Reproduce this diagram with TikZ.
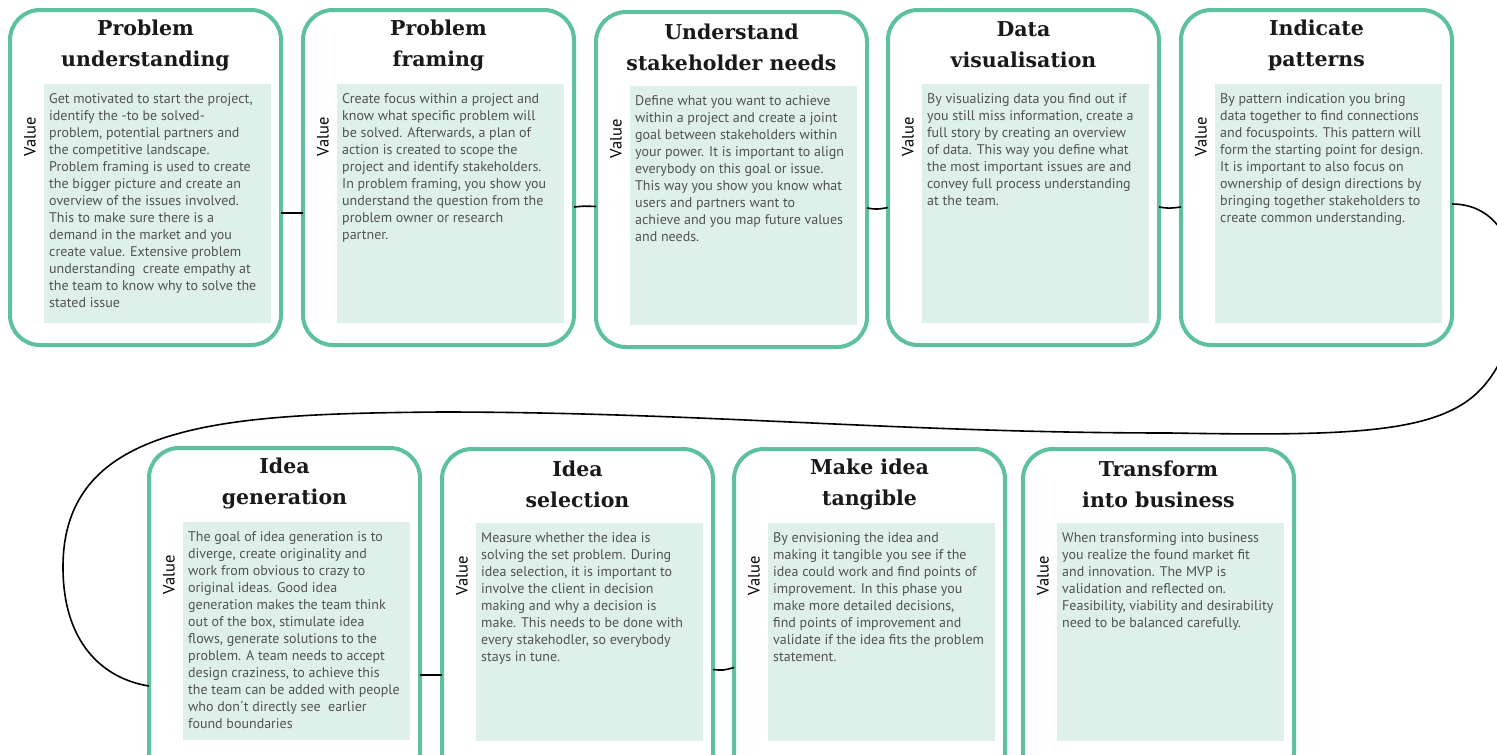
\documentclass[tikz,border=0pt]{standalone}
\usepackage{fontspec}
\usetikzlibrary{calc}
\newfontfamily\titlefont{DejaVu Serif}
\newfontfamily\bodyfont{PT Sans}
\definecolor{cgreen}{HTML}{5EC19D}
\definecolor{cfill}{HTML}{DEF0E9}
\definecolor{ctext}{HTML}{525252}
\tikzset{
  card/.style={draw=cgreen, line width=4pt, rounded corners=30pt, fill=white,
    minimum width=271pt, minimum height=335pt, inner sep=0pt, outer sep=0pt},
  panel/.style={fill=cfill, draw=none, inner sep=0pt, outer sep=0pt, minimum width=227pt, anchor=north west},
  cardtitle/.style={font=\titlefont\bfseries\fontsize{20.5}{31}\selectfont, align=center, text=black!90, inner sep=0pt},
  vlabel/.style={font=\bodyfont\fontsize{16.5}{18}\selectfont, rotate=90, inner sep=0pt, text=black},
  bodytext/.style={font=\bodyfont\fontsize{14}{17}\selectfont, text=ctext, inner sep=0pt, anchor=base west},
  conn/.style={draw=black, line width=1.6pt}
}
% #1 name, #2 left, #3 top, #4 title, #5 body, #6 panel height
\newcommand{\mycard}[6]{%
  \node[card] (#1) at ({#2+135.5},{#3+167.5}) {};
  \node[panel, minimum height=#6pt] (#1p) at ({#2+34},{#3+74}) {};
  \node[cardtitle] (#1t) at ({#2+135.5},{#3+35}) {#4};
  \node[vlabel] (#1v) at ({#2+20},{#3+127}) {Value};
  \node[bodytext] (#1b) at ({#2+39},{#3+93}) {\parbox[t]{245pt}{\raggedright #5}};
}
\begin{document}
\begin{tikzpicture}[x=1pt,y=-1pt]
\useasboundingbox (0,0) rectangle (1497,755);
\fill[white] (0,0) rectangle (1497,755);
\clip (0,0) rectangle (1497,755);

\mycard{c1}{10}{10}{Problem\\understanding}{Get motivated to start the project,\\identify the -to be solved-\\problem, potential partners and\\the competitive landscape.\\Problem framing is used to create\\the bigger picture and create an\\overview of the issues involved.\\This to make sure there is a\\demand in the market and you\\create value. Extensive problem\\understanding\ \ create empathy at\\the team to know why to solve the\\stated issue}{239}
\mycard{c2}{303}{10}{Problem\\framing}{Create focus within a project and\\know what specific problem will\\be solved. Afterwards, a plan of\\action is created to scope the\\project and identify stakeholders.\\In problem framing, you show you\\understand the question from the\\problem owner or research\\partner.}{239}
\mycard{c3}{596}{12}{Understand\\stakeholder needs}{Define what you want to achieve\\within a project and create a joint\\goal between stakeholders within\\your power. It is important to align\\everybody on this goal or issue.\\This way you show you know what\\users and partners want to\\achieve and you map future values\\and needs.}{239}
\mycard{c4}{888}{10}{Data\\visualisation}{By visualizing data you find out if\\you still miss information, create a\\full story by creating an overview\\of data. This way you define what\\the most important issues are and\\convey full process understanding\\at the team.}{239}
\mycard{c5}{1181}{10}{Indicate\\patterns}{By pattern indication you bring\\data together to find connections\\and focuspoints. This pattern will\\form the starting point for design.\\It is important to also focus on\\ownership of design directions by\\bringing together stakeholders to\\create common understanding.}{239}

\mycard{c6}{149}{448}{Idea\\generation}{The goal of idea generation is to\\diverge, create originality and\\work from obvious to crazy to\\original ideas. Good idea\\generation makes the team think\\out of the box, stimulate idea\\flows, generate solutions to the\\problem. A team needs to accept\\design craziness, to achieve this\\the team can be added with people\\who don´t directly see\ \ earlier\\found boundaries}{218}
\mycard{c7}{442}{449}{Idea\\selection}{Measure whether the idea is\\solving the set problem. During\\idea selection, it is important to\\involve the client in decision\\making and why a decision is\\make. This needs to be done with\\every stakehodler, so everybody\\stays in tune.}{218}
\mycard{c8}{734}{449}{Make idea\\tangible}{By envisioning the idea and\\making it tangible you see if the\\idea could work and find points of\\improvement. In this phase you\\make more detailed decisions,\\find points of improvement and\\validate if the idea fits the problem\\statement.}{218}
\mycard{c9}{1023}{449}{Transform\\into business}{When transforming into business\\you realize the found market fit\\and innovation. The MVP is\\validation and reflected on.\\Feasibility, viability and desirability\\need to be balanced carefully.}{218}

\draw[conn] ($(c1.east)+(0,35.5)$) -- ($(c2.west)+(0,35.5)$);
\draw[conn] ($(c2.east)+(0,29.5)$) .. controls ($(c2.east)+(10,28.5)$) .. ($(c3.west)+(0,27)$);
\draw[conn] ($(c3.east)+(0,28.5)$) .. controls ($(c3.east)+(10,30)$) .. ($(c4.west)+(0,30)$);
\draw[conn] ($(c4.east)+(0,29.5)$) .. controls ($(c4.east)+(10,31)$) .. ($(c5.west)+(0,29.5)$);
\draw[conn] ($(c5.east)+(0,26.5)$) .. controls (1530,204) and (1535,330) .. (1482,388)
  .. controls (1440,434) and (1350,436) .. (1170,433)
  .. controls (900,433) and (700,412) .. (440,412)
  .. controls (230,414) and (63,420) .. (63,567)
  .. controls (63,650) and (110,680) .. ($(c6.west)+(0,70.5)$);
\draw[conn] ($(c6.east)+(0,59.5)$) -- ($(c7.west)+(0,58.5)$);
\draw[conn] ($(c7.east)+(0,53)$) .. controls ($(c7.east)+(10,54)$) .. ($(c8.west)+(0,51)$);
\end{tikzpicture}
\end{document}
